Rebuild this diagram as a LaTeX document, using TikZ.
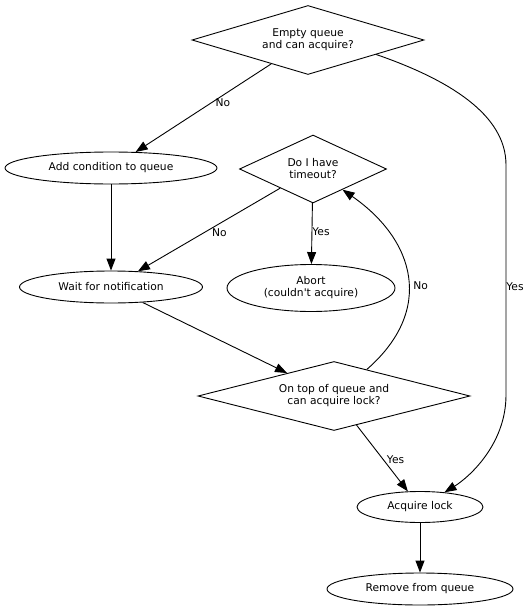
\documentclass[tikz,border=0pt]{standalone}
\usepackage{fontspec}
\setmainfont{DejaVu Sans}
\usepackage{tikz}
\usetikzlibrary{shapes.geometric, arrows.meta, positioning}
\tikzstyle{arrow}=[line width=0.9pt,-{Triangle[length=12pt,width=9pt]}]
\tikzstyle{decision}=[draw,diamond,aspect=3,inner sep=0pt,align=center,minimum height=69pt]
\tikzstyle{process}=[draw,ellipse,inner sep=0pt,align=center,minimum height=32pt]
\tikzstyle{lbl}=[inner sep=0pt]

\begin{document}
\begin{tikzpicture}[x=1pt,y=-1pt,line width=0.9pt,font=\fontsize{10.7}{12}\selectfont]
	\useasboundingbox (0,0) rectangle (531,610);
	\node [decision, minimum width=232pt] (empty) at (308,40) {Empty queue\\and can acquire?};
	\node [process, minimum width=212pt] (addcond) at (111,168) {Add condition to queue};
	\node [process, minimum width=183pt, node distance=119pt, below of=addcond] (wait) {Wait for notification};
	\node [decision, minimum width=147pt, minimum height=68pt] (timeout) at (313,169) {Do I have\\timeout?};
	\node [process, minimum width=168pt, minimum height=47pt] (abort) at (311,288) {Abort\\(couldn\textquotesingle t acquire)};
	\node [decision, minimum width=272pt] (ontop) at (334,396) {On top of queue and\\can acquire lock?};
	\node [process, minimum width=126pt, minimum height=31pt] (acquire) at (420,507) {Acquire lock};
	\node [process, minimum width=186pt, node distance=82pt, below of=acquire] (remove) {Remove from queue};

	\draw[arrow] (empty) -- node[lbl, pos=.445, xshift=12pt] {No} (addcond);
	\draw[arrow] (empty.-12) .. controls (450,80) and (506,115) .. (506,165)
		-- node[lbl, pos=.53, xshift=9pt] {Yes} (506,395)
		.. controls (506,445) and (468,478) .. (acquire.31);
	\draw[arrow] (addcond) -- (wait);
	\draw[arrow] (timeout) -- node[lbl, pos=.54, xshift=16pt] {No} (wait);
	\draw[arrow] (timeout) -- node[lbl, pos=.47, xshift=9pt] {Yes} (abort);
	\draw[arrow] (wait) -- (ontop);
	\draw[arrow] (ontop.39) .. controls (435,310) and (415,240) .. node[lbl, pos=.45, xshift=12pt] {No} (timeout.-35);
	\draw[arrow] (ontop) -- node[lbl, pos=.525, xshift=12pt] {Yes} (acquire);
	\draw[arrow] (acquire) -- (remove);
\end{tikzpicture}
\end{document}
